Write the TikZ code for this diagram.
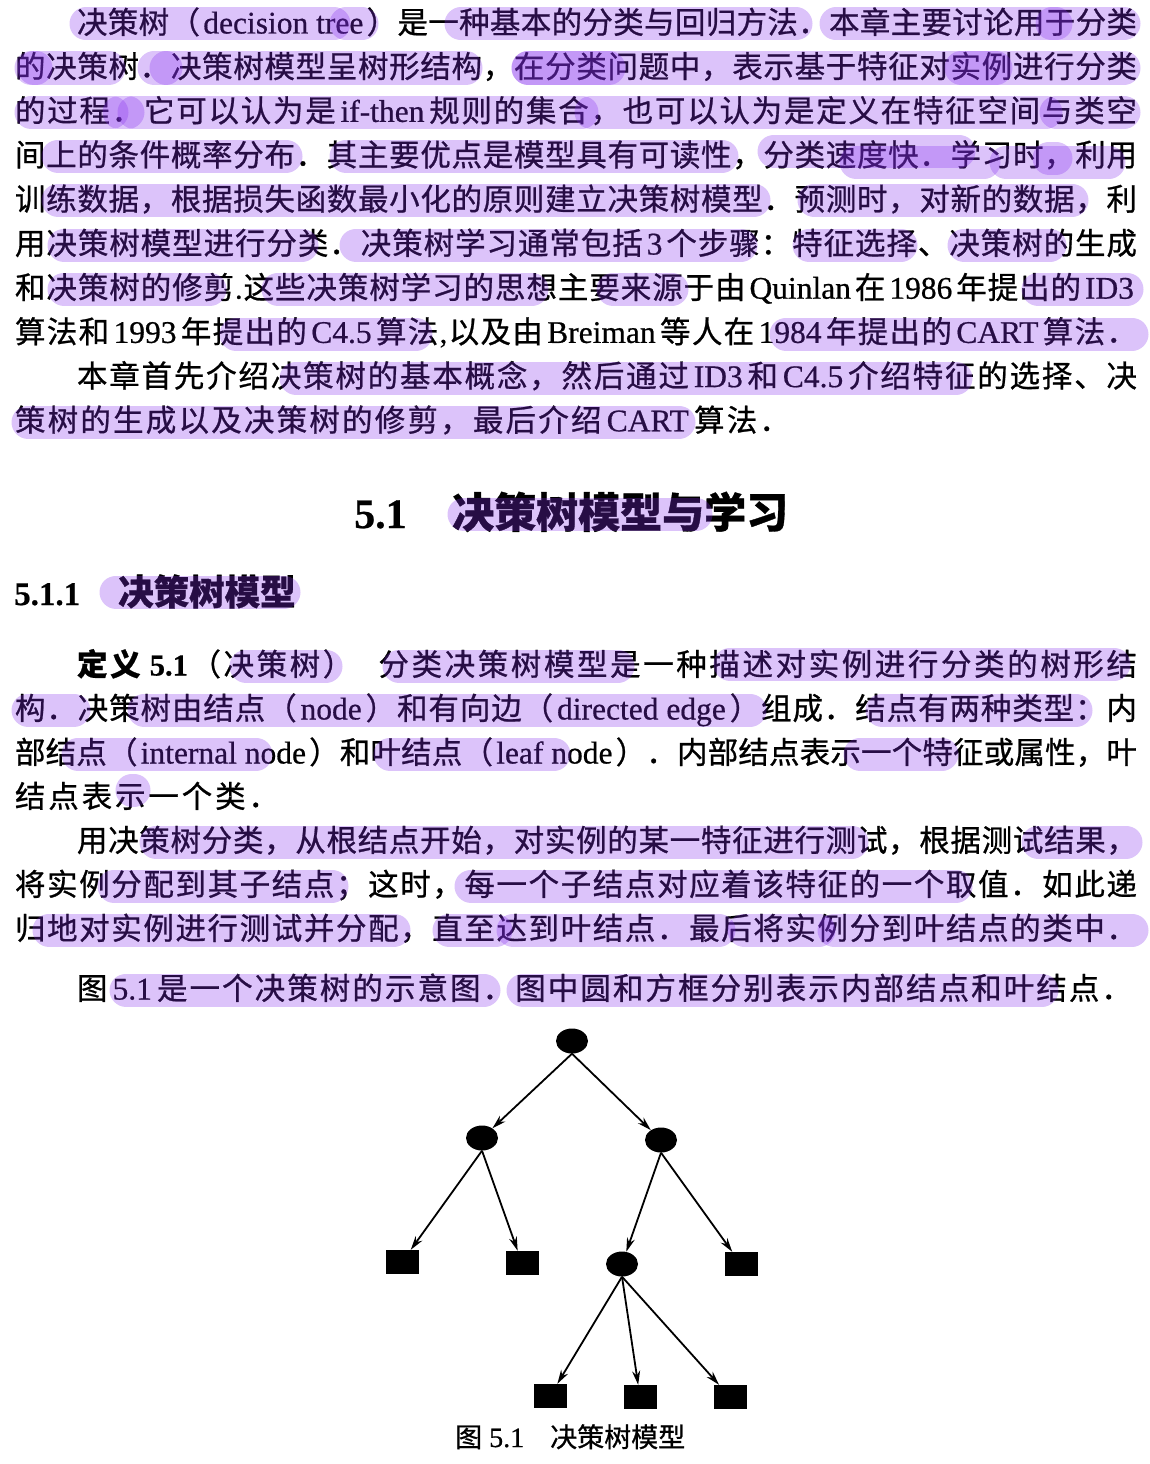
\documentclass[tikz,border=0pt]{standalone}
\usepackage{fontspec}
\setmainfont{Noto Sans CJK SC}[FakeBold=0.8]
\newfontfamily\latf{Liberation Serif}[FakeBold=0.6]
\usetikzlibrary{shapes.geometric,arrows.meta}
\definecolor{hlc}{RGB}{135,48,238}
\def\spstop{}
\def\spstopm{\spstop}
\def\spr#1{\def\sptmp{#1}\ifx\sptmp\spstopm\else\hfil{#1}\expandafter\spr\fi}
\newcommand\spreadline[2]{\hbox to #1{\hskip 0pt plus -1fil\spr#2\spstop}}
\newcommand\lat[1]{{\latf\fontsize{31.5}{31.5}\selectfont\hskip3pt #1\hskip3pt}}
\newcommand\hl[3]{\draw[hl] ({#2+16},{#1+2}) -- ({#3-16},{#1+2});}
\begin{document}
\begin{tikzpicture}[x=1pt,y=-1pt,
  ln/.style={anchor=base west, inner sep=0pt, outer sep=0pt, font=\fontsize{30.5}{30.5}\selectfont},
  hl/.style={line width=33pt, line cap=round, draw=hlc, draw opacity=0.29},
  inn/.style={ellipse, fill=black, minimum width=32pt, minimum height=25pt, inner sep=0pt},
  leaf/.style={rectangle, fill=black, minimum width=33pt, minimum height=24pt, inner sep=0pt},
  arr/.style={-{Stealth[length=14pt,width=8pt]}, line width=1.8pt}]
\useasboundingbox (0,0) rectangle (1150,1464);

% ---------- top paragraph ----------
\node[ln] (t1) at (77,33.5) {\spreadline{1060pt}{决策树（{\lat{decision tree}}）是一种基本的分类与回归方法．本章主要讨论用于分类}};
\node[ln] (t2) at (15,77.7) {\spreadline{1122pt}{的决策树．决策树模型呈树形结构，在分类问题中，表示基于特征对实例进行分类}};
\node[ln] (t3) at (15,121.9) {\spreadline{1122pt}{的过程．它可以认为是{\lat{if-then}}规则的集合，也可以认为是定义在特征空间与类空}};
\node[ln] (t4) at (15,166.1) {\spreadline{1122pt}{间上的条件概率分布．其主要优点是模型具有可读性，分类速度快．学习时，利用}};
\node[ln] (t5) at (15,210.3) {\spreadline{1122pt}{训练数据，根据损失函数最小化的原则建立决策树模型．预测时，对新的数据，利}};
\node[ln] (t6) at (15,254.5) {\spreadline{1122pt}{用决策树模型进行分类．决策树学习通常包括{\lat{3}}个步骤：特征选择、决策树的生成}};
\node[ln] (t7) at (15,298.7) {\spreadline{1122pt}{和决策树的修剪{\latf .}这些决策树学习的思想主要来源于由{\lat{Quinlan}}在{\lat{1986}}年提出的{\lat{ID3}}}};
\node[ln] (t8) at (15,342.9) {\spreadline{1122pt}{算法和{\lat{1993}}年提出的{\lat{C4.5}}算法{\latf ,}以及由{\lat{Breiman}}等人在{\lat{1984}}年提出的{\lat{CART}}算法．}};
\node[ln] (t9) at (77,387.1) {\spreadline{1060pt}{本章首先介绍决策树的基本概念，然后通过{\lat{ID3}}和{\lat{C4.5}}介绍特征的选择、决}};
\node[ln] (t10) at (15,431.3) {\spreadline{775pt}{策树的生成以及决策树的修剪，最后介绍{\lat{CART}}算法．}};

% ---------- headings ----------
\node[anchor=base west, inner sep=0pt, font=\fontsize{42}{42}\selectfont\bfseries] (h1n) at (354,528) {\latf 5.1};
\node[anchor=base west, inner sep=0pt, font=\fontsize{42}{42}\selectfont\bfseries] (h1t) at (452,528) {决策树模型与学习};
\node[anchor=base west, inner sep=0pt, font=\fontsize{33}{33}\selectfont\bfseries] (h2n) at (14,605) {\latf 5.1.1};
\node[anchor=base west, inner sep=0pt, font=\fontsize{35.5}{35.5}\selectfont\bfseries] (h2t) at (118,605) {决策树模型};

% ---------- definition ----------
\node[ln] (d1) at (77,675.5) {\spreadline{1060pt}{{\bfseries 定}{\bfseries 义}{\hskip4pt}{\latf\bfseries 5.1}（决策树）{\hskip20pt}分类决策树模型是一种描述对实例进行分类的树形结}};
\node[ln] (d2) at (15,719.5) {\spreadline{1122pt}{构．决策树由结点（{\lat{node}}）和有向边（{\lat{directed edge}}）组成．结点有两种类型：内}};
\node[ln] (d3) at (15,763.5) {\spreadline{1122pt}{部结点（{\lat{internal node}}）和叶结点（{\lat{leaf node}}）．内部结点表示一个特征或属性，叶}};
\node[ln] (d4) at (15,807.5) {\spreadline{264pt}{结点表示一个类．}};
\node[ln] (d5) at (77,851.5) {\spreadline{1060pt}{用决策树分类，从根结点开始，对实例的某一特征进行测试，根据测试结果，}};
\node[ln] (d6) at (15,895.5) {\spreadline{1122pt}{将实例分配到其子结点；这时，每一个子结点对应着该特征的一个取值．如此递}};
\node[ln] (d7) at (15,939.5) {\spreadline{1122pt}{归地对实例进行测试并分配，直至达到叶结点．最后将实例分到叶结点的类中．}};
\node[ln] (d8) at (77,999.5) {\spreadline{1055pt}{图{\lat{5.1}}是一个决策树的示意图．图中圆和方框分别表示内部结点和叶结点．}};

% ---------- tree ----------
\node[inn] (r) at (572,1041) {};
\node[inn] (a) at (482,1138) {};
\node[inn] (b) at (661,1140) {};
\node[leaf] (s1) at (402,1262) {};
\node[leaf] (s2) at (522,1263) {};
\node[inn] (c) at (622,1264) {};
\node[leaf] (s3) at (741,1264) {};
\node[leaf] (s4) at (550,1396) {};
\node[leaf] (s5) at (640,1397) {};
\node[leaf] (s6) at (730,1397) {};
\draw[arr] (r.south) -- (a);
\draw[arr] (r.south) -- (b);
\draw[arr] (a.south) -- (s1);
\draw[arr] (a.south) -- (s2);
\draw[arr] (b.south) -- (c);
\draw[arr] (b.south) -- (s3);
\draw[arr] (c.south) -- (s4);
\draw[arr] (c.south) -- (s5);
\draw[arr] (c.south) -- (s6);

% ---------- caption ----------
\node[anchor=base west, inner sep=0pt, font=\fontsize{27}{27}\selectfont] (cp1) at (455,1447) {图};
\node[anchor=base west, inner sep=0pt, font=\fontsize{28}{28}\selectfont] (cp2) at (489,1447) {\latf 5.1};
\node[anchor=base west, inner sep=0pt, font=\fontsize{27}{27}\selectfont] (cp3) at (550,1447) {决策树模型};

% ---------- highlights ----------
\hl{22}{70}{350}\hl{22}{330}{378}\hl{22}{445}{812}\hl{22}{820}{1140}\hl{22}{1040}{1068}
\hl{66}{15}{125}\hl{66}{18}{52}\hl{66}{138}{182}\hl{66}{150}{482}\hl{66}{512}{1140}\hl{66}{512}{625}\hl{66}{945}{1012}
\hl{110}{15}{128}\hl{110}{112}{135}\hl{110}{118}{598}\hl{110}{575}{1062}\hl{110}{1040}{1140}
\hl{154}{42}{302}\hl{154}{330}{738}\hl{149}{758}{975}\hl{160}{840}{1000}\hl{160}{990}{1125}\hl{156}{1040}{1065}
\hl{198}{42}{770}\hl{198}{798}{1088}
\hl{243}{48}{318}\hl{243}{340}{757}\hl{243}{793}{917}\hl{243}{948}{1066}
\hl{287}{48}{226}\hl{287}{262}{548}\hl{287}{597}{688}\hl{287}{1022}{1143}
\hl{332}{220}{432}\hl{332}{770}{1148}
\hl{376}{280}{972}
\hl{420}{12}{695}
\hl{512}{448}{712}
\hl{590}{100}{300}
\hl{664}{230}{342}\hl{664}{383}{634}\hl{662}{714}{1130}
\hl{708}{12}{90}\hl{708}{128}{766}\hl{708}{866}{1092}
\hl{752}{62}{272}\hl{752}{374}{570}\hl{752}{844}{958}
\hl{788}{116}{150}
\hl{840}{140}{868}\hl{840}{1022}{1142}
\hl{884}{98}{348}\hl{884}{455}{972}
\hl{928}{33}{410}\hl{928}{433}{512}\hl{928}{497}{735}\hl{928}{728}{835}\hl{928}{818}{1148}
\hl{988}{110}{500}\hl{988}{507}{1058}
\end{tikzpicture}
\end{document}
